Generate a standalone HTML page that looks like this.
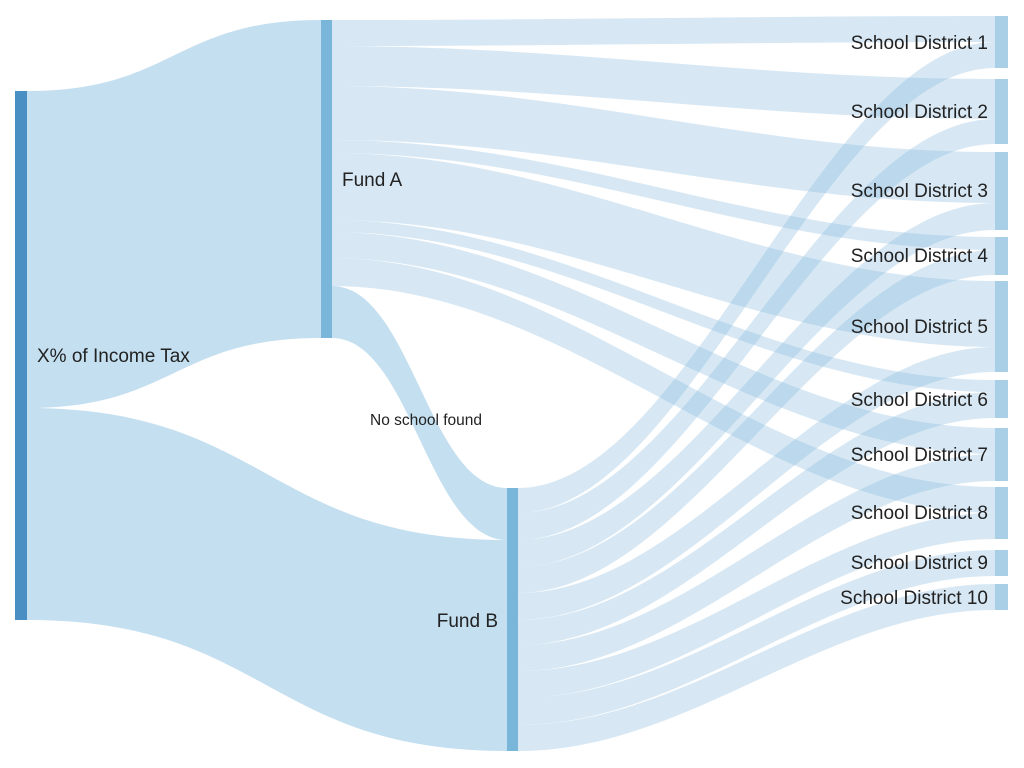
<!DOCTYPE html>
<html><head><meta charset="utf-8"><style>
html,body{margin:0;padding:0;background:#fff;}
svg{display:block;}
text{font-family:"Liberation Sans",sans-serif;fill:#222;}
</style></head><body>
<svg id="s" width="1024" height="768" viewBox="0 0 1024 768" xmlns="http://www.w3.org/2000/svg">
<g id="links"></g>
<rect x="15" y="91" width="12" height="529" fill="#4a8fc4"/>
<rect x="321" y="20" width="11" height="318" fill="#7ab5da"/>
<rect x="507" y="488" width="11" height="263" fill="#7ab5da"/>
<g fill="#a8cfe6">
<rect x="995" y="16" width="13" height="52"/>
<rect x="995" y="79" width="13" height="65"/>
<rect x="995" y="152" width="13" height="78"/>
<rect x="995" y="237" width="13" height="38"/>
<rect x="995" y="281" width="13" height="91"/>
<rect x="995" y="380" width="13" height="38"/>
<rect x="995" y="428" width="13" height="53"/>
<rect x="995" y="487" width="13" height="52"/>
<rect x="995" y="550" width="13" height="26"/>
<rect x="995" y="584" width="13" height="26"/>
</g>
<text x="37" y="362" font-size="19">X% of Income Tax</text>
<text x="342" y="186" font-size="19">Fund A</text>
<text x="498" y="627" font-size="19" text-anchor="end">Fund B</text>
<text x="370" y="425" font-size="15.5">No school found</text>
<g font-size="19" text-anchor="end">
<text x="988" y="49">School District 1</text>
<text x="988" y="118">School District 2</text>
<text x="988" y="197">School District 3</text>
<text x="988" y="262">School District 4</text>
<text x="988" y="333">School District 5</text>
<text x="988" y="406">School District 6</text>
<text x="988" y="461">School District 7</text>
<text x="988" y="519">School District 8</text>
<text x="988" y="569">School District 9</text>
<text x="988" y="604">School District 10</text>
</g>
</svg>
<script>
var g=document.getElementById('links');
function rib(x0,a0,b0,x1,a1,b1,fill,c){
 var m1=x0+(x1-x0)*c, m2=x1-(x1-x0)*c;
 var d='M'+x0+' '+a0+' C'+m1+' '+a0+','+m2+' '+a1+','+x1+' '+a1+' L'+x1+' '+b1+' C'+m2+' '+b1+','+m1+' '+b0+','+x0+' '+b0+' Z';
 var p=document.createElementNS('http://www.w3.org/2000/svg','path');
 p.setAttribute('d',d);p.setAttribute('fill',fill);g.appendChild(p);
}
var S='rgba(100,170,215,0.38)',F='rgba(130,185,220,0.32)';
rib(27,91,408,321,20,338,S,0.5);
rib(27,408,620,507,540,751,S,0.5);
rib(332,286,338,507,488,540,S,0.45);
var A=[[20,46,16,42],[46,86,79,119],[86,140,152,203],[140,153,237,250],[153,220,281,347],[220,232,380,392],[232,258,428,454],[258,286,487,513]];
A.forEach(function(f){rib(332,f[0],f[1],995,f[2],f[3],F,0.36);});
var B=[[488,513,42,68],[513,540,119,144],[540,567,203,230],[567,593,250,275],[593,620,347,372],[620,645,392,418],[645,671,454,481],[671,698,513,539],[698,725,550,576],[725,751,584,610]];
B.forEach(function(f){rib(518,f[0],f[1],995,f[2],f[3],F,0.36);});
</script>
</body></html>
